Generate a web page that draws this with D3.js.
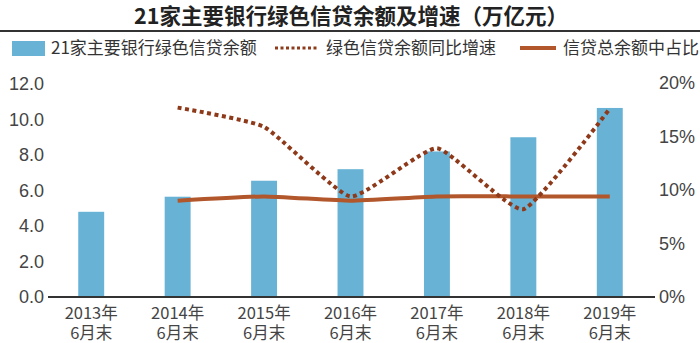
<!DOCTYPE html>
<html><head><meta charset="utf-8">
<script src="https://cdn.jsdelivr.net/npm/d3@7"></script>
<style>
body{margin:0;background:#fff;}
svg{display:block;}
text{font-family:"Noto Sans CJK SC","Noto Sans",sans-serif;}
</style></head>
<body><svg id="c" width="700" height="343"></svg>
<script>
const categories = ["2013年|6月末","2014年|6月末","2015年|6月末","2016年|6月末","2017年|6月末","2018年|6月末","2019年|6月末"];
const balance = [4.8, 5.65, 6.55, 7.2, 8.2, 9.0, 10.65];
const growth = [null, 17.7, 15.9, 9.4, 13.9, 8.2, 17.6];
const share = [null, 9.0, 9.4, 9.0, 9.4, 9.4, 9.4];
const leftTicks = [0, 2, 4, 6, 8, 10, 12];
const rightTicks = [0, 5, 10, 15, 20];
const title = "21家主要银行绿色信贷余额及增速（万亿元）";
const legendLabels = ["21家主要银行绿色信贷余额", "绿色信贷余额同比增速", "信贷总余额中占比"];

const svg = d3.select("#c");
const x0 = 48, x1 = 653, yb = 297, yt = 84;
const x = d3.scaleBand().domain(categories).range([x0, x1]).paddingInner(0.7).paddingOuter(0.35);
const cx = d => x(d) + x.bandwidth() / 2;
const yL = d3.scaleLinear().domain([0, 12]).range([yb, yt]);
const yR = d3.scaleLinear().domain([0, 20]).range([yb, yt - 1]);

const blue = "#67b2d5", dotC = "#8e3a1a", solidC = "#b2562b", txt = "#444";

// title
svg.append("text").attr("x", 351).attr("y", 24).attr("text-anchor", "middle")
  .attr("font-size", 21.5).attr("font-weight", "bold").attr("fill", "#222").text(title);
svg.append("line").attr("x1", 0).attr("x2", 700).attr("y1", 31).attr("y2", 31)
  .attr("stroke", "#333").attr("stroke-width", 2);

// legend
const ly = 48;
svg.append("rect").attr("x", 12).attr("y", ly - 7).attr("width", 33).attr("height", 15).attr("fill", blue);
svg.append("text").attr("x", 51).attr("y", ly + 6).attr("font-size", 17).attr("fill", "#333").text(legendLabels[0]);
svg.append("line").attr("x1", 275).attr("x2", 319).attr("y1", ly).attr("y2", ly)
  .attr("stroke", dotC).attr("stroke-width", 3).attr("stroke-dasharray", "3,2.5");
svg.append("text").attr("x", 326).attr("y", ly + 6).attr("font-size", 17).attr("fill", "#333").text(legendLabels[1]);
svg.append("line").attr("x1", 520).attr("x2", 556).attr("y1", ly).attr("y2", ly)
  .attr("stroke", solidC).attr("stroke-width", 4);
svg.append("text").attr("x", 563).attr("y", ly + 6).attr("font-size", 17).attr("fill", "#333").text(legendLabels[2]);

// bars
svg.append("g").selectAll("rect").data(categories).join("rect")
  .attr("x", d => x(d)).attr("width", x.bandwidth())
  .attr("y", (d, i) => yL(balance[i])).attr("height", (d, i) => yb - yL(balance[i]))
  .attr("fill", blue);

// lines
const pts = (arr) => categories.map((c, i) => [c, arr[i]]).filter(p => p[1] != null);
const line = d3.line().x(p => cx(p[0])).y(p => yR(p[1])).curve(d3.curveCardinal.tension(0.55));
svg.append("path").attr("d", line(pts(share))).attr("fill", "none")
  .attr("stroke", solidC).attr("stroke-width", 4);
svg.append("path").attr("d", line(pts(growth))).attr("fill", "none")
  .attr("stroke", dotC).attr("stroke-width", 4).attr("stroke-dasharray", "4,3.5");

// axes
const axL = svg.append("g").attr("transform", `translate(${x0},0)`)
  .call(d3.axisLeft(yL).tickValues(leftTicks).tickFormat(d3.format(".1f")).tickSize(0).tickPadding(4));
const axR = svg.append("g").attr("transform", `translate(${x1},0)`)
  .call(d3.axisRight(yR).tickValues(rightTicks).tickFormat(d => d + "%").tickSize(0).tickPadding(6));
[axL, axR].forEach(a => {
  a.select(".domain").remove();
  a.selectAll("text").attr("font-size", 18).attr("fill", txt)
    .style("font-family", "'Liberation Sans','Noto Sans',sans-serif");
});
svg.append("line").attr("x1", x0).attr("x2", x1 + 2).attr("y1", yb).attr("y2", yb)
  .attr("stroke", "#333").attr("stroke-width", 2);

const axB = svg.append("g").attr("transform", `translate(0,${yb})`)
  .call(d3.axisBottom(x).tickSize(0).tickPadding(0).tickFormat(""));
axB.select(".domain").remove();
axB.selectAll(".tick").each(function(d) {
  const parts = d.split("|");
  const g = d3.select(this);
  g.append("text").attr("text-anchor", "middle").attr("fill", txt).attr("font-size", 16.5)
    .attr("x", 0).attr("y", 22).text(parts[0]);
  g.append("text").attr("text-anchor", "middle").attr("fill", txt).attr("font-size", 16.5)
    .attr("x", 0).attr("y", 42).text(parts[1]);
});
</script></body></html>
